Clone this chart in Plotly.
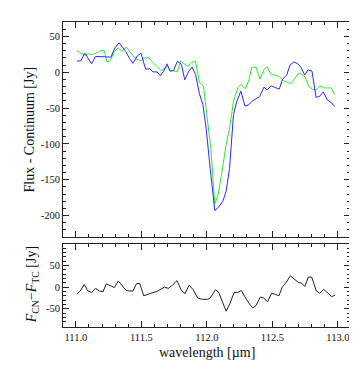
import plotly.graph_objects as go

# ---- data ----
wl_cn = [111.008, 111.038, 111.069, 111.095, 111.12, 111.15, 111.18, 111.21, 111.242, 111.268,
         111.298, 111.33, 111.355, 111.38, 111.41, 111.436, 111.47, 111.497, 111.533, 111.563,
         111.589, 111.62, 111.645, 111.67, 111.696, 111.719, 111.745, 111.775, 111.806, 111.831,
         111.862, 111.887, 111.913, 111.943, 111.969, 111.994, 112.025, 112.06, 112.091, 112.122,
         112.147, 112.173, 112.203, 112.229, 112.259, 112.29, 112.315, 112.346, 112.376, 112.402,
         112.435, 112.46, 112.49, 112.52, 112.552, 112.578, 112.609, 112.634, 112.664, 112.695,
         112.72, 112.746, 112.771, 112.802, 112.833, 112.858, 112.888, 112.919, 112.95, 112.975]
flux_cn = [15.4, 16, 26.5, 19, 11.6, 22, 22, 21, 21, 21,
           34, 41, 35, 29, 19, 12.5, 23, 26.5, 4, 5,
           0.4, 0.4, -5, 1.4, 11.6, 1.4, 2.2, 15.4, 10.6, -10.7,
           1.4, 7, -3, -30, -45, -78, -134, -193, -188, -180,
           -166, -134, -59, -40.5, -26.5, -47, -46, -40.5, -37, -34,
           -21, -24.7, -19, -21, -23.7, -9.8, -4, 9.8, 14.4, 11.6,
           6, -4, 3.2, 1.4, -35, -34, -27.5, -38.7, -42.5, -48]

wl_tc = [111.008, 111.038, 111.069, 111.095, 111.125, 111.156, 111.19, 111.217, 111.237, 111.263,
         111.294, 111.324, 111.35, 111.385, 111.41, 111.436, 111.466, 111.497, 111.528, 111.558,
         111.589, 111.62, 111.65, 111.676, 111.7, 111.719, 111.75, 111.775, 111.8, 111.826,
         111.856, 111.882, 111.913, 111.943, 111.974, 111.999, 112.03, 112.06, 112.086, 112.116,
         112.147, 112.173, 112.203, 112.236, 112.262, 112.292, 112.318, 112.343, 112.374, 112.405,
         112.435, 112.46, 112.49, 112.52, 112.552, 112.583, 112.609, 112.639, 112.67, 112.7,
         112.726, 112.75, 112.777, 112.807, 112.833, 112.863, 112.894, 112.919, 112.95, 112.975]
flux_tc = [30, 26.5, 23.7, 25.5, 24.6, 26.5, 30, 30, 14.4, 16,
           29, 34, 29, 35, 29, 23, 18, 16, 20, 20,
           13.4, 7, 2.2, 5, 7.8, 3.2, 1.4, 0.4, 15.4, 11.6,
           7.8, 13.4, 15.4, -14, -20, -59, -106, -184, -171, -138,
           -101, -78, -40.5, -22, -17, -23, -12.6, 7, 7, -9.8,
           3.2, 7.8, -3.4, -4, -6, -11.7, -13.5, -16, -9, -1,
           -3, -7, -20, -24, -24.7, -19, -22, -22, -22, -31]

wl_diff = [111.008, 111.034, 111.064, 111.09, 111.12, 111.15, 111.18, 111.207, 111.232, 111.263,
           111.294, 111.324, 111.355, 111.385, 111.41, 111.436, 111.462, 111.487, 111.518, 111.625,
           111.676, 111.706, 111.737, 111.772, 111.803, 111.833, 111.864, 111.895, 111.93, 111.96,
           112.007, 112.025, 112.066, 112.091, 112.116, 112.147, 112.177, 112.208, 112.234, 112.264,
           112.295, 112.32, 112.35, 112.376, 112.407, 112.432, 112.463, 112.494, 112.524, 112.55,
           112.575, 112.606, 112.636, 112.667, 112.697, 112.723, 112.748, 112.774, 112.8, 112.835,
           112.861, 112.892, 112.922, 112.953, 112.978]
diff = [-15.5, -9, 6, -8, -12.5, -3, -9, -11, 7.6, 3,
        -1, 14, 3, -8, -9, -9, 7.6, 9, -20, -9,
        0, -3, 4.5, 15, -6, -15.5, 4.5, -6, -25, -28,
        -28, -25, -6, -12.5, -32, -55.5, -37, -12.5, -12.5, -8,
        -25, -37, -48, -42, -23, -25, -34, -14, -17, -20,
        0, 11, 26, 18.5, 11, 9, 1.4, 23, 23, -9,
        -14, -5, -14, -22, -18.5]

top_ticks = [50, 0, -50, -100, -150, -200]
bot_ticks = [50, 0, -50]
x_ticks = [111.0, 111.5, 112.0, 112.5, 113.0]

FONT = "Liberation Serif"
AX = "#222222"

fig = go.Figure()
fig.add_trace(go.Scatter(x=wl_tc, y=flux_tc, mode="lines",
                         line=dict(color="#2ee82e", width=1), xaxis="x", yaxis="y"))
fig.add_trace(go.Scatter(x=wl_cn, y=flux_cn, mode="lines",
                         line=dict(color="#2a2aff", width=1), xaxis="x", yaxis="y"))
fig.add_trace(go.Scatter(x=wl_diff, y=diff, mode="lines",
                         line=dict(color="#222222", width=1), xaxis="x2", yaxis="y2"))

common = dict(showline=True, linecolor=AX, linewidth=1, mirror="ticks",
              ticks="inside", ticklen=6, tickwidth=1, tickcolor=AX,
              showgrid=False, zeroline=False,
              tickfont=dict(family=FONT, size=10.5, color="#111"))

xr = [110.902, 113.092]
xminor = dict(ticks="inside", tickmode="linear", tick0=111.0, dtick=0.1,
              ticklen=3, tickcolor=AX, showgrid=False)
yminor = dict(ticks="inside", tickmode="linear", tick0=0, dtick=10,
              ticklen=3, tickcolor=AX, showgrid=False)

fig.update_layout(
    width=357, height=366,
    margin=dict(l=55, r=15, t=14, b=47),
    paper_bgcolor="white", plot_bgcolor="white",
    showlegend=False,
    font=dict(family=FONT, color="#111"),
    xaxis=dict(domain=[0, 1], range=xr, anchor="y", tickmode="array",
               tickvals=x_ticks, showticklabels=False, minor=xminor, **common),
    yaxis=dict(domain=[0.295, 1], range=[-230, 70], anchor="x", tickmode="array",
               tickvals=top_ticks, ticktext=[str(v).replace("\u2212", "-") for v in top_ticks],
               minor=yminor, **common),
    xaxis2=dict(domain=[0, 1], range=xr, anchor="y2", matches="x", tickmode="array",
                tickvals=x_ticks, ticktext=["%.1f" % v for v in x_ticks],
                minor=xminor, **common),
    yaxis2=dict(domain=[0, 0.273], range=[-92, 100], anchor="x2", tickmode="array",
                tickvals=bot_ticks, ticktext=[str(v) for v in bot_ticks],
                minor=yminor, **common),
    annotations=[
        dict(text="Flux - Continuum [Jy]", xref="paper", yref="paper", x=0, y=0.6475,
             xanchor="center", yanchor="middle", xshift=-33, textangle=-90,
             showarrow=False, font=dict(family=FONT, size=14, color="#111")),
        dict(text="<i>F</i><sub>CN</sub>\u2212<i>F</i><sub>TC</sub> [Jy]", xref="paper",
             yref="paper", x=0, y=0.1365, xanchor="center", yanchor="middle", xshift=-31,
             textangle=-90, showarrow=False, font=dict(family=FONT, size=14, color="#111")),
        dict(text="wavelength [\u00b5m]", xref="paper", yref="paper", x=0.5, y=0,
             xanchor="center", yanchor="middle", yshift=-25, showarrow=False,
             font=dict(family=FONT, size=14, color="#111")),
    ],
)

fig.write_html("out.html")
